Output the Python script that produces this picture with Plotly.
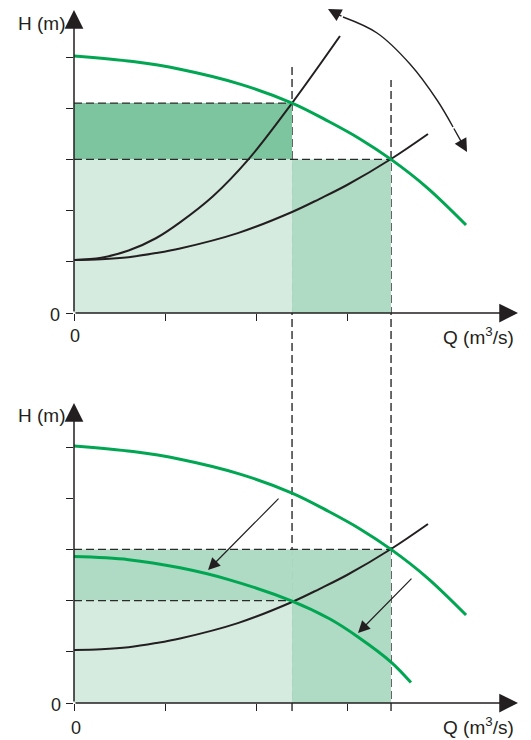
import plotly.graph_objects as go

# pump curve at full speed (Q, H) - same in both panels
pump_q = [0, 0.648, 1.165, 1.824, 2.396, 2.8, 3.143, 3.484, 3.879, 4.308]
pump_h = [5.02, 4.91, 4.76, 4.47, 4.10, 3.74, 3.40, 3.00, 2.45, 1.72]

# pump curve at reduced speed (bottom panel)
slow_q = [0, 0.6, 1.165, 1.7, 2.396, 2.813, 3.121, 3.484, 3.703]
slow_h = [2.86, 2.80, 2.64, 2.41, 1.99, 1.64, 1.29, 0.80, 0.40]

# system curve, throttled (steep) and open (flat)
steep_q = [0, 0.3, 0.6, 0.9, 1.165, 1.527, 1.912, 2.396, 2.923]
steep_h = [1.035, 1.08, 1.22, 1.46, 1.77, 2.28, 2.99, 4.10, 5.41]
flat_q = [0, 0.3, 0.6, 0.9, 1.165, 1.8, 2.396, 2.7, 3.0, 3.484, 3.89]
flat_h = [1.035, 1.05, 1.09, 1.17, 1.26, 1.56, 1.973, 2.23, 2.50, 3.008, 3.496]

# operating points
Q1, Q2 = 2.396, 3.484
H_A, H_B, H_C = 4.10, 3.0, 2.0

# curved double arrow (top panel)
arc_q = [2.791, 2.956, 3.330, 3.692, 3.989, 4.165, 4.319]
arc_h = [5.938, 5.781, 5.469, 4.863, 4.160, 3.633, 3.145]

# straight arrows in bottom panel: (tail q, tail h, head q, head h)
shift_arrows = [(2.264, 4.02, 1.473, 2.598), (3.725, 2.46, 3.121, 1.367)]

W, H = 531, 740
OFF = 8         # page body margin
PX_X = 91.0     # px per Q unit
PX_Y = 51.2     # px per H unit
X0 = 74         # y-axis pixel
TOP_BASE, BOT_BASE = 313, 703

GREEN = '#00a651'
BLACK = '#231f20'
DARK = '#7cc59f'
MED = '#afdac4'
LIGHT = '#d6ebe0'
DASH = '#2b2b2b'
FONT = 'Arial, Liberation Sans, sans-serif'


def px(x):
    return (x - OFF) / W


def py(y):
    return 1 - (y - OFF) / H


fig = go.Figure()


def add_line(q, h, color, width, xa, ya):
    fig.add_trace(go.Scatter(x=q, y=h, mode='lines',
                             line=dict(color=color, width=width, shape='spline', smoothing=1),
                             xaxis=xa, yaxis=ya, hoverinfo='skip', showlegend=False))


# top panel
add_line(steep_q, steep_h, BLACK, 2, 'x', 'y')
add_line(flat_q, flat_h, BLACK, 2, 'x', 'y')
add_line(pump_q, pump_h, GREEN, 3, 'x', 'y')
add_line(arc_q[1:-1], arc_h[1:-1], BLACK, 1.4, 'x', 'y')

# bottom panel
add_line(flat_q, flat_h, BLACK, 2, 'x2', 'y2')
add_line(pump_q, pump_h, GREEN, 3, 'x2', 'y2')
add_line(slow_q, slow_h, GREEN, 3, 'x2', 'y2')

shapes = []


def rect(x0, x1, y0, y1, color, xr, yr):
    shapes.append(dict(type='rect', xref=xr, yref=yr, x0=x0, x1=x1, y0=y0, y1=y1,
                       fillcolor=color, line=dict(width=0), layer='below'))


def dline(x0, x1, y0, y1, xr, yr):
    shapes.append(dict(type='line', xref=xr, yref=yr, x0=x0, x1=x1, y0=y0, y1=y1,
                       line=dict(color=DASH, width=1.4, dash='8px,4px'), layer='below'))


rect(0, Q1, H_B, H_A, DARK, 'x', 'y')
rect(0, Q1, 0, H_B, LIGHT, 'x', 'y')
rect(Q1, Q2, 0, H_B, MED, 'x', 'y')
rect(0, Q1, 0, H_C, LIGHT, 'x2', 'y2')
rect(0, Q1, H_C, H_B, MED, 'x2', 'y2')
rect(Q1, Q2, 0, H_B, MED, 'x2', 'y2')

dline(0, Q1, H_A, H_A, 'x', 'y')
dline(0, Q2, H_B, H_B, 'x', 'y')
dline(0, Q2, H_B, H_B, 'x2', 'y2')
dline(0, Q1, H_C, H_C, 'x2', 'y2')
# long verticals across both panels
dline(Q1, Q1, py(711), py(65), 'x', 'paper')
dline(Q2, Q2, py(711), py(80), 'x', 'paper')

ann = []


def arrow(x, y, ax, ay, xr, yr, width, size):
    ann.append(dict(x=x, y=y, ax=ax, ay=ay, xref=xr, yref=yr, axref=xr, ayref=yr,
                    text='', showarrow=True, arrowhead=2, arrowsize=size,
                    arrowwidth=width, arrowcolor=BLACK, standoff=0))


def label(txt, x, y, size=19):
    ann.append(dict(x=px(x), y=py(y), xref='paper', yref='paper', text=txt,
                    showarrow=False, font=dict(family=FONT, size=size, color=BLACK),
                    xanchor='center', yanchor='middle'))


x_tip = (518 - X0) / PX_X
arrow(x_tip, 0, 0, 0, 'x', 'y', 1.5, 2.5)
arrow(0, (TOP_BASE - 10) / PX_Y, 0, 0, 'x', 'y', 1.5, 2.5)
arrow(x_tip, 0, 0, 0, 'x2', 'y2', 1.5, 2.5)
arrow(0, (BOT_BASE - 403) / PX_Y, 0, 0, 'x2', 'y2', 1.5, 2.5)

# curved double arrow heads
arrow(arc_q[0], arc_h[0], arc_q[1], arc_h[1], 'x', 'y', 1.4, 1.9)
arrow(arc_q[-1], arc_h[-1], arc_q[-2], arc_h[-2], 'x', 'y', 1.4, 1.9)

for tq, th, hq, hh in shift_arrows:
    arrow(hq, hh, tq, th, 'x2', 'y2', 1.2, 2.0)

label('H (m)', 41, 23)
label('H (m)', 41, 415)
label('Q (m<sup>3</sup>/s)', 478, 336)
label('Q (m<sup>3</sup>/s)', 478, 726)
label('0', 55, 315, 18)
label('0', 75, 336, 18)
label('0', 56, 705, 18)
label('0', 76, 728, 18)

x_range = [0, (W - (X0 - OFF)) / PX_X]
axis_common = dict(showgrid=False, zeroline=False, showline=False, showticklabels=False,
                   ticks='outside', ticklen=7, tickwidth=1.3, tickcolor=BLACK)

fig.update_layout(
    width=W, height=H,
    margin=dict(l=0, r=0, t=0, b=0),
    paper_bgcolor='white', plot_bgcolor='rgba(0,0,0,0)',
    showlegend=False,
    shapes=shapes, annotations=ann,
    xaxis=dict(domain=[px(X0), 1], range=x_range, anchor='y', tickvals=[0, 1, 2, 3], **axis_common),
    xaxis2=dict(domain=[px(X0), 1], range=x_range, anchor='y2', tickvals=[0, 1, 2, 3], **axis_common),
    yaxis=dict(domain=[py(TOP_BASE), 1], range=[0, (TOP_BASE - OFF) / PX_Y], anchor='x',
               tickvals=[0, 1, 2, 3, 4, 5], **axis_common),
    yaxis2=dict(domain=[py(BOT_BASE), py(393)], range=[0, (BOT_BASE - 393) / PX_Y], anchor='x2',
                tickvals=[0, 1, 2, 3, 4, 5], **axis_common),
)

fig.write_html("out.html")
